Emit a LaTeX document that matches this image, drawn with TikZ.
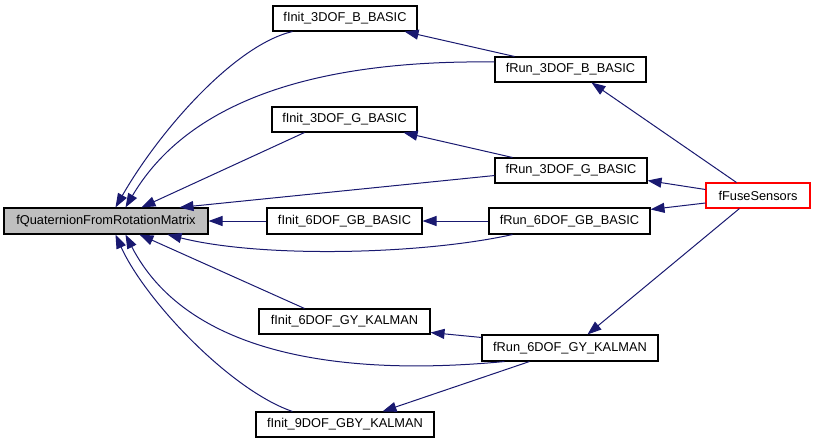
\documentclass[tikz,border=0pt]{standalone}
\usepackage{fontspec}
\setmainfont{Liberation Sans}
\usetikzlibrary{arrows.meta}
\definecolor{edgeblue}{HTML}{191970}
\definecolor{qgray}{HTML}{BFBFBF}
\begin{document}
\begin{tikzpicture}[x=0.75pt,y=-0.75pt,
  fbox/.style={draw=black,line width=0.8pt,fill=white,inner sep=0pt,minimum height=18.75pt,
    font=\fontsize{9.6pt}{11pt}\selectfont},
  edge/.style={draw=edgeblue,line width=0.75pt,-{Triangle[length=10.5pt,width=7.5pt]}}]
\useasboundingbox (0,0) rectangle (815,443);
% nodes
\node[fbox,fill=qgray,minimum width=153pt,minimum height=19.5pt] (fQ) at (106,221) {fQuaternionFromRotationMatrix};
\node[fbox,minimum width=108pt] (i3B) at (345,18.5) {fInit\_3DOF\_B\_BASIC};
\node[fbox,minimum width=113.25pt] (r3B) at (570.5,69.5) {fRun\_3DOF\_B\_BASIC};
\node[fbox,minimum width=108.75pt] (i3G) at (344.5,119.5) {fInit\_3DOF\_G\_BASIC};
\node[fbox,minimum width=114pt] (r3G) at (571,170.5) {fRun\_3DOF\_G\_BASIC};
\node[fbox,minimum width=116.25pt,minimum height=19.5pt] (i6GB) at (344.5,221) {fInit\_6DOF\_GB\_BASIC};
\node[fbox,minimum width=120.75pt,minimum height=19.5pt] (r6GB) at (569.5,221) {fRun\_6DOF\_GB\_BASIC};
\node[fbox,minimum width=128.25pt] (i6GY) at (344.5,321.5) {fInit\_6DOF\_GY\_KALMAN};
\node[fbox,minimum width=132pt,minimum height=19.5pt] (r6GY) at (570,348) {fRun\_6DOF\_GY\_KALMAN};
\node[fbox,minimum width=133.5pt] (i9) at (345,424.5) {fInit\_9DOF\_GBY\_KALMAN};
\node[fbox,draw=red,minimum width=78pt] (fuse) at (758,195.5) {fFuseSensors};
% edges to fQuaternionFromRotationMatrix
\draw[edge] ([shift={(20,0)}]i3B.south west) .. controls (235,45) and (160,130) .. ([shift={(112,0)}]fQ.north west);
\draw[edge] ([shift={(0,-7.5)}]r3B.west) .. controls (340,60) and (195,90) .. ([shift={(122,0)}]fQ.north west);
\draw[edge] ([shift={(33,0)}]i3G.south west) -- ([shift={(138,0)}]fQ.north west);
\draw[edge] ([shift={(0,-8)}]r3G.south west) -- ([shift={(176,0)}]fQ.north west);
\draw[edge] (i6GB.west) -- (fQ.east);
\draw[edge] ([shift={(24,0)}]r6GB.south west) .. controls (420,255) and (260,258) .. ([shift={(164,0)}]fQ.south west);
\draw[edge] ([shift={(46,0)}]i6GY.north west) -- ([shift={(136,0)}]fQ.south west);
\draw[edge] ([shift={(23,0)}]r6GY.south west) .. controls (330,378) and (185,350) .. ([shift={(122,0)}]fQ.south west);
\draw[edge] ([shift={(37,0)}]i9.north west) .. controls (230,390) and (145,300) .. ([shift={(112,0)}]fQ.south west);
% run -> init
\draw[edge] ([shift={(20,0)}]r3B.north west) -- ([shift={(-13,0)}]i3B.south east);
\draw[edge] ([shift={(18,0)}]r3G.north west) -- ([shift={(-14,0)}]i3G.south east);
\draw[edge] (r6GB.west) -- (i6GB.east);
\draw[edge] ([shift={(0,3)}]r6GY.north west) -- ([shift={(0,-2)}]i6GY.south east);
\draw[edge] ([shift={(48,0)}]r6GY.south west) -- ([shift={(127,0)}]i9.north west);
% fuse -> run
\draw[edge] ([shift={(31,0)}]fuse.north west) -- ([shift={(97,0)}]r3B.south west);
\draw[edge] ([shift={(0,-6)}]fuse.west) -- ([shift={(0,-3)}]r3G.south east);
\draw[edge] ([shift={(0,7.5)}]fuse.west) -- ([shift={(0,2)}]r6GB.north east);
\draw[edge] ([shift={(34,0)}]fuse.south west) -- ([shift={(106,0)}]r6GY.north west);
\end{tikzpicture}
\end{document}
